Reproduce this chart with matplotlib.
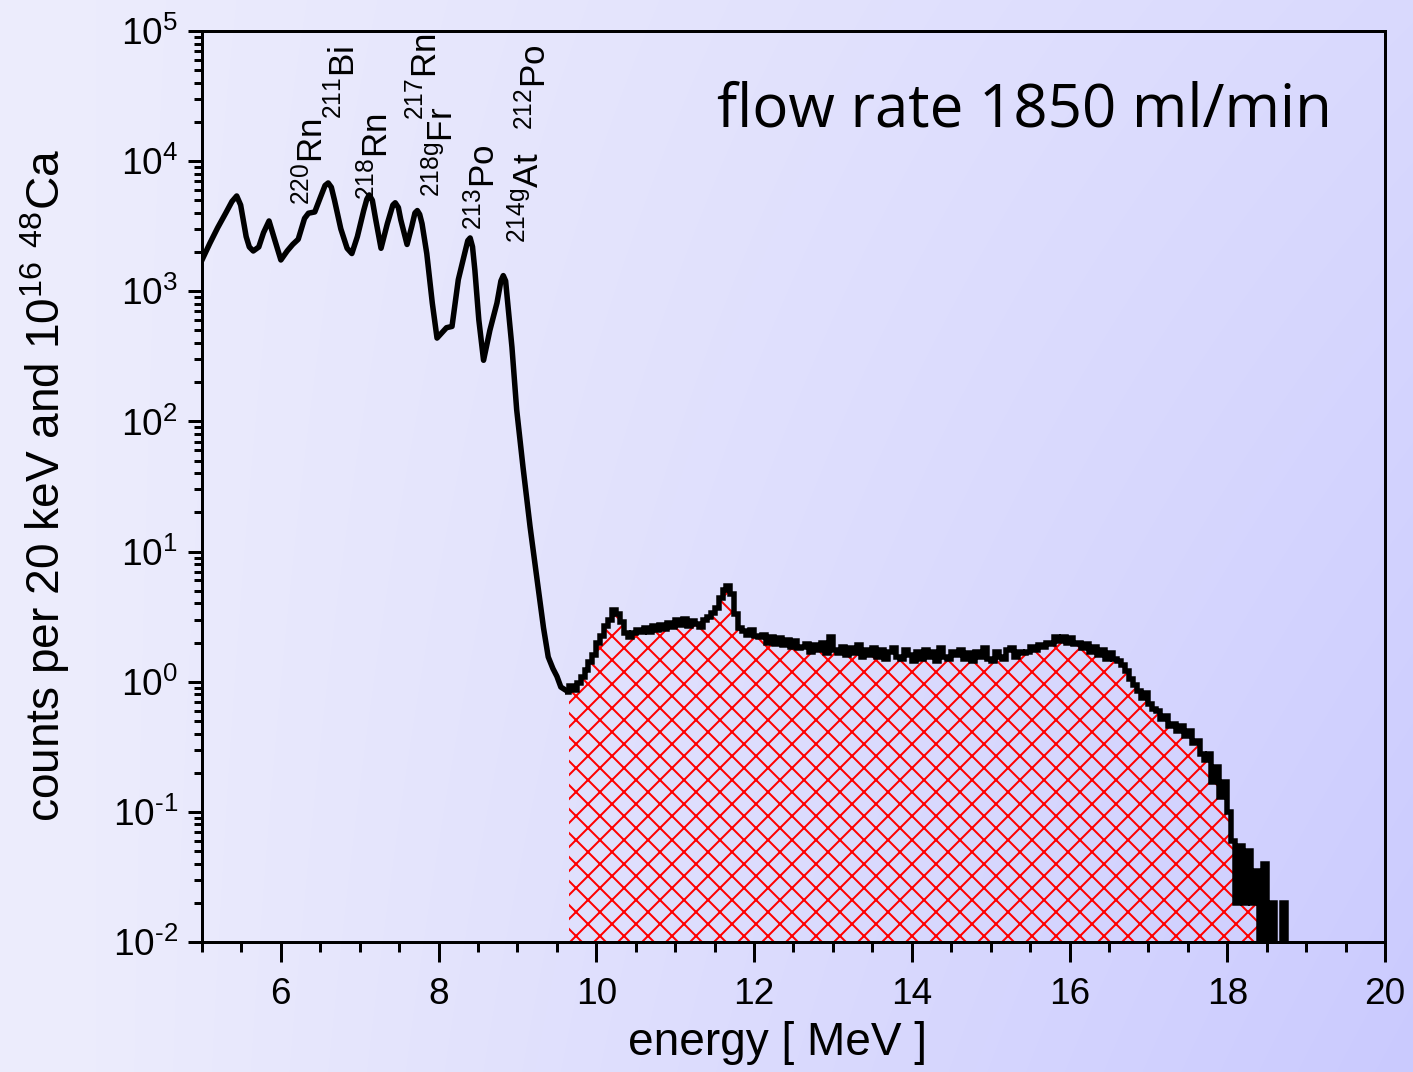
import numpy as np
import matplotlib.pyplot as plt
from matplotlib.ticker import FixedLocator, MultipleLocator, LogLocator, NullFormatter, FuncFormatter

plt.rcParams['font.family'] = ['Liberation Sans', 'DejaVu Sans']
plt.rcParams['mathtext.fontset'] = 'custom'
plt.rcParams['mathtext.rm'] = 'Liberation Sans'
plt.rcParams['mathtext.it'] = 'Liberation Sans:italic'
plt.rcParams['mathtext.bf'] = 'Liberation Sans:bold'
plt.rcParams['axes.unicode_minus'] = False
plt.rcParams['hatch.color'] = 'red'
plt.rcParams['hatch.linewidth'] = 2.0

# smooth low-energy part (MeV, counts)
e_smooth = [5.00, 5.10, 5.20, 5.30, 5.38, 5.44, 5.49, 5.56, 5.60, 5.65,
            5.72, 5.78, 5.85, 5.92, 6.00, 6.08, 6.15, 6.22, 6.30, 6.35,
            6.43, 6.50, 6.56, 6.60, 6.64, 6.68, 6.76, 6.84, 6.90, 6.97,
            7.05, 7.09, 7.12, 7.16, 7.20, 7.27, 7.35, 7.42, 7.45, 7.49,
            7.52, 7.60, 7.66, 7.70, 7.73, 7.76, 7.79, 7.85, 7.92, 7.98,
            8.04, 8.10, 8.17, 8.25, 8.33, 8.37, 8.40, 8.43, 8.46, 8.51,
            8.57, 8.65, 8.74, 8.79, 8.82, 8.85, 8.87, 8.93, 8.99, 9.07,
            9.16, 9.25, 9.33, 9.39, 9.45, 9.50, 9.55, 9.60]
c_smooth = [1740, 2340, 3090, 3980, 4900, 5400, 4600, 2630, 2190, 2040,
            2190, 2820, 3470, 2510, 1740, 2040, 2290, 2510, 3630, 3980,
            4070, 5250, 6500, 6800, 6300, 5010, 3020, 2140, 1950, 2630,
            4170, 5100, 5500, 5000, 3630, 2140, 3310, 4600, 4790, 4400,
            3550, 2290, 3160, 4000, 4170, 3900, 3310, 1950, 813, 437,
            479, 525, 537, 1230, 1950, 2450, 2570, 2200, 1450, 603,
            295, 501, 813, 1200, 1320, 1200, 891, 372, 123, 44.7,
            15.5, 6.0, 2.6, 1.55, 1.26, 1.10, 0.91, 0.87]

# binned high-energy part, 50 keV bins starting at 9.60 MeV
bin_start = 9.60
bin_width = 0.05
c_bins = [
    0.84, 0.92, 0.86, 0.98, 1.08, 1.22, 1.42, 1.60, 2.0, 2.25,
    2.7, 3.0, 3.55, 3.3, 2.9, 2.35, 2.2, 2.35, 2.5, 2.4,
    2.6, 2.4, 2.7, 2.5, 2.75, 2.55, 2.85, 2.65, 3.0, 2.75,
    3.05, 2.7, 2.95, 2.8, 2.65, 3.0, 3.15, 3.35, 3.7, 4.4,
    5.1, 5.4, 4.7, 3.3, 2.6, 2.45, 2.3, 2.5, 2.25, 2.2,
    2.3, 2.0, 2.2, 1.95, 2.15, 1.9, 2.1, 1.85, 2.05, 1.8,
    1.85, 1.95, 1.7, 1.9, 1.75, 2.0, 1.65, 2.2, 1.75, 1.65,
    1.85, 1.6, 1.8, 1.65, 1.9, 1.55, 1.75, 1.6, 1.8, 1.55,
    1.75, 1.5, 1.7, 1.8, 1.55, 1.5, 1.75, 1.6, 1.45, 1.7,
    1.5, 1.75, 1.55, 1.7, 1.45, 1.8, 1.55, 1.5, 1.7, 1.6,
    1.75, 1.5, 1.65, 1.45, 1.7, 1.55, 1.8, 1.5, 1.45, 1.7,
    1.55, 1.5, 1.75, 1.8, 1.55, 1.7, 1.65, 1.7, 1.85, 1.75,
    1.9, 1.85, 2.0, 1.95, 2.2, 2.05, 2.2, 2.0, 2.15, 1.95,
    2.0, 1.8, 1.95, 1.7, 1.85, 1.6, 1.75, 1.5, 1.65, 1.5,
    1.45, 1.35, 1.2, 1.05, 0.95, 0.85, 0.75, 0.82, 0.68, 0.62,
    0.6, 0.52, 0.55, 0.46, 0.47, 0.42, 0.46, 0.38, 0.42, 0.34,
    0.35, 0.28, 0.25, 0.28, 0.17, 0.22, 0.13, 0.17, 0.1, 0.06,
    0.02, 0.055, 0.02, 0.05, 0.02, 0.035, 0.0, 0.04, 0.0, 0.02,
    0.0, 0.0, 0.02, 0.0, 0.0,
]
fill_from = 9.65
fill_to = 18.55

labels = [r'$^{220}$Rn', r'$^{211}$Bi', r'$^{218}$Rn', r'$^{217}$Rn',
          r'$^{\mathrm{218g}}$Fr', r'$^{213}$Po', r'$^{\mathrm{214g}}$At', r'$^{212}$Po']
label_e = [6.53, 6.94, 7.35, 7.98, 8.18, 8.715, 9.27, 9.36]
label_c = [4600, 21000, 5020, 20700, 5300, 2960, 2350, 17300]

x_ticks = [6, 8, 10, 12, 14, 16, 18, 20]

W, H = 1413, 1072
fig = plt.figure(figsize=(W / 72, H / 72), dpi=72)

# background gradient
bg = fig.add_axes([0, 0, 1, 1], zorder=-10)
gx = np.clip((np.arange(W) - 95) / (W - 95), 0, 1)
gy = np.arange(H) / H
t = gx[None, :] * (0.55 + 0.45 * gy[:, None])
c0 = np.array([236, 236, 252]) / 255
c1 = np.array([202, 202, 255]) / 255
bg.imshow(c0 + (c1 - c0) * t[..., None], aspect='auto', extent=[0, 1, 0, 1], origin='upper')
bg.axis('off')

ax = fig.add_axes([202 / W, 1 - 942 / H, (1385 - 202) / W, (942 - 31) / H])
ax.set_facecolor('none')
ax.set_yscale('log')

vals = np.array(c_bins)
edges = bin_start + bin_width * np.arange(len(vals) + 1)
shown = np.where(vals > 0, vals, 1e-4)

# hatched region
sel = (edges[:-1] >= fill_from - 1e-9) & (edges[:-1] < fill_to - 1e-9)
idx = np.where(sel)[0]
ax.stairs(shown[idx], edges[idx[0]:idx[-1] + 2], baseline=1e-4, fill=True,
          facecolor='none', edgecolor='red', hatch='x', linewidth=0, zorder=1)

ax.plot(e_smooth, c_smooth, color='black', lw=5.5, solid_joinstyle='round', zorder=3)
ax.stairs(shown, edges, baseline=None, color='black', lw=5.5, zorder=3)

for s, e, c in zip(labels, label_e, label_c):
    ax.text(e, c, s, rotation=90, rotation_mode='anchor', ha='left', va='baseline',
            fontsize=35)

ax.text(0.955, 0.895, 'flow rate 1850 ml/min', transform=ax.transAxes,
        ha='right', va='baseline', fontsize=60, family=['Open Sans', 'DejaVu Sans'])


def dec_label(v, pos):
    p = int(round(np.log10(v)))
    if p < 0:
        return r'$\mathdefault{10^{\text{-}%d}}$' % (-p)
    return r'$\mathdefault{10^{%d}}$' % p


ax.set_xlim(5, 20)
ax.set_ylim(1e-2, 1e5)
ax.xaxis.set_major_locator(FixedLocator(x_ticks))
ax.xaxis.set_minor_locator(MultipleLocator(0.5))
ax.yaxis.set_major_locator(LogLocator(base=10, numticks=20))
ax.yaxis.set_minor_locator(LogLocator(base=10, subs=np.arange(2, 10), numticks=20))
ax.yaxis.set_major_formatter(FuncFormatter(dec_label))
ax.yaxis.set_minor_formatter(NullFormatter())

ax.tick_params(axis='x', which='major', direction='out', length=20, width=3, pad=15, labelsize=37)
ax.tick_params(axis='x', which='minor', direction='out', length=10, width=3)
ax.tick_params(axis='y', which='major', direction='out', length=14, width=3, pad=10, labelsize=37)
ax.tick_params(axis='y', which='minor', direction='out', length=8, width=3)
for sp in ax.spines.values():
    sp.set_linewidth(3)

fig.text(778 / W, (H - 1055) / H, 'energy [ MeV ]', ha='center', va='baseline', fontsize=46)
fig.text(45 / W, 1 - 486 / H, r'counts per 20 keV and 10$^{16}$ $^{48}$Ca', rotation=90,
         ha='center', va='center', fontsize=46)

fig.savefig('out.png', dpi=72)
